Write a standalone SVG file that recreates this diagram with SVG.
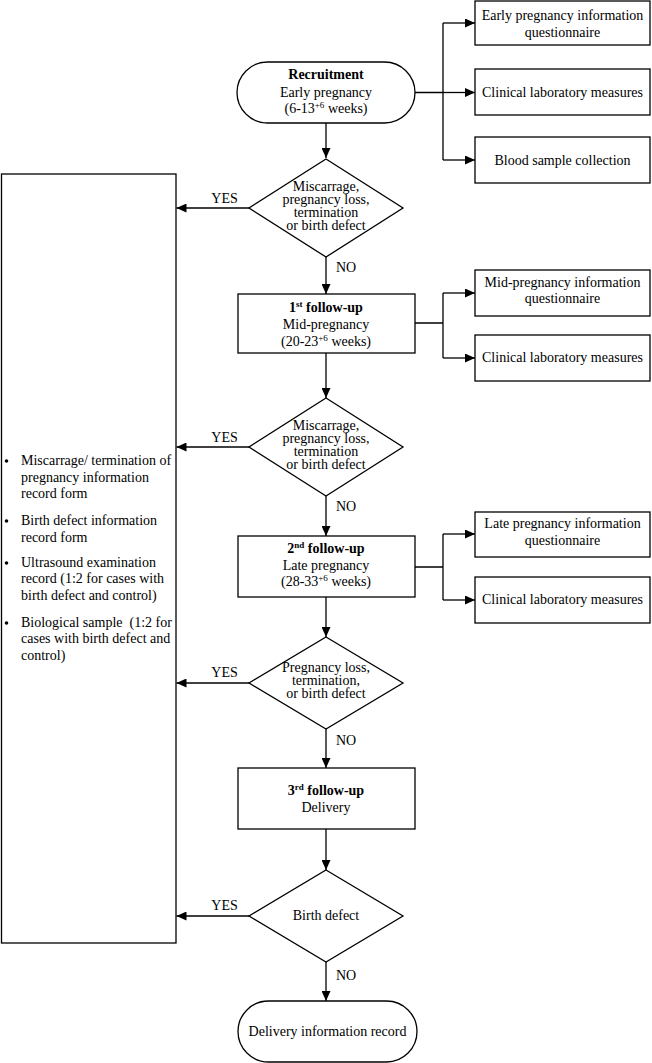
<svg xmlns="http://www.w3.org/2000/svg" width="652" height="1063" viewBox="0 0 652 1063">
<style>
text{font-family:"Liberation Serif","Times New Roman",serif;font-size:14px;fill:#000}
.c{text-anchor:middle}
.b{font-weight:bold}
.shape{fill:#fff;stroke:#000;stroke-width:1.3}
.ln{fill:none;stroke:#000;stroke-width:1.3}
.arr{marker-end:url(#ah)}
</style>
<defs>
<marker id="ah" markerUnits="userSpaceOnUse" markerWidth="10" markerHeight="9" refX="10" refY="4.5" orient="auto">
<path d="M0,0 L10,4.5 L0,9 z" fill="#000"/>
</marker>
</defs>
<rect width="652" height="1063" fill="#fff"/>

<g id="connectors">
<path class="ln arr" d="M326,123 V158"/>
<path class="ln" d="M415,92.5 H443 M443,23 V160"/>
<path class="ln arr" d="M443,23 H475"/>
<path class="ln arr" d="M443,92.5 H475"/>
<path class="ln arr" d="M443,160 H475"/>
<path class="ln arr" d="M249,208 H176.5"/>
<path class="ln arr" d="M326,257 V294"/>
<path class="ln" d="M415,323 H443 M443,293 V358"/>
<path class="ln arr" d="M443,293 H475"/>
<path class="ln arr" d="M443,358 H475"/>
<path class="ln arr" d="M326,353 V398"/>
<path class="ln arr" d="M249,447 H176.5"/>
<path class="ln arr" d="M326,496 V536"/>
<path class="ln" d="M415,567 H443 M443,534 V600"/>
<path class="ln arr" d="M443,534 H475"/>
<path class="ln arr" d="M443,600 H475"/>
<path class="ln arr" d="M326,597 V637"/>
<path class="ln arr" d="M249,683 H176.5"/>
<path class="ln arr" d="M326,729 V768"/>
<path class="ln arr" d="M326,829 V870"/>
<path class="ln arr" d="M249,916 H176.5"/>
<path class="ln arr" d="M326,962 V1001"/>
<text x="224.5" y="203" class="c">YES</text>
<text x="224.5" y="442" class="c">YES</text>
<text x="224.5" y="677" class="c">YES</text>
<text x="224.5" y="910" class="c">YES</text>
<text x="336" y="272">NO</text>
<text x="336" y="511">NO</text>
<text x="336" y="745">NO</text>
<text x="336" y="980">NO</text>
</g>

<g id="recruitment">
<rect class="shape" x="237" y="62" width="178" height="61" rx="30.5" ry="30.5"/>
<text x="326" y="79" class="c b">Recruitment</text>
<text x="326" y="97" class="c">Early pregnancy</text>
<text x="326" y="113" class="c">(6-13<tspan font-size="9" dy="-5">+6</tspan><tspan dy="5"> weeks)</tspan></text>
</g>

<g id="early-questionnaire">
<rect class="shape" x="475" y="1" width="175" height="44"/>
<text x="562.5" y="20" class="c">Early pregnancy information</text>
<text x="562.5" y="37" class="c">questionnaire</text>
</g>
<g id="early-clinical">
<rect class="shape" x="475" y="69" width="175" height="46"/>
<text x="562.5" y="97" class="c">Clinical laboratory measures</text>
</g>
<g id="blood-sample">
<rect class="shape" x="475" y="137" width="175" height="46"/>
<text x="562.5" y="165" class="c">Blood sample collection</text>
</g>

<g id="decision1">
<polygon class="shape" points="326,159 403,208 326,257 249,208"/>
<text x="326" y="191" class="c">Miscarrage,</text>
<text x="326" y="204" class="c">pregnancy loss,</text>
<text x="326" y="217" class="c">termination</text>
<text x="326" y="230" class="c">or birth defect</text>
</g>

<g id="outcome-records">
<rect class="shape" x="1.5" y="174" width="174.5" height="769"/>
<circle cx="6.5" cy="461" r="1.8"/>
<text x="21" y="465">Miscarrage/ termination of</text>
<text x="21" y="482">pregnancy information</text>
<text x="21" y="498">record form</text>
<circle cx="6.5" cy="521" r="1.8"/>
<text x="21" y="525">Birth defect information</text>
<text x="21" y="542">record form</text>
<circle cx="6.5" cy="563" r="1.8"/>
<text x="21" y="567">Ultrasound examination</text>
<text x="21" y="583">record (1:2 for cases with</text>
<text x="21" y="600">birth defect and control)</text>
<circle cx="6.5" cy="623" r="1.8"/>
<text x="21" y="627" xml:space="preserve">Biological sample  (1:2 for</text>
<text x="21" y="643">cases with birth defect and</text>
<text x="21" y="660">control)</text>
</g>

<g id="followup1">
<rect class="shape" x="238" y="294" width="177" height="59"/>
<text x="326" y="312" class="c b">1<tspan font-size="9" dy="-5">st</tspan><tspan dy="5"> follow-up</tspan></text>
<text x="326" y="329" class="c">Mid-pregnancy</text>
<text x="326" y="346" class="c">(20-23<tspan font-size="9" dy="-5">+6</tspan><tspan dy="5"> weeks)</tspan></text>
</g>
<g id="mid-questionnaire">
<rect class="shape" x="475" y="270" width="175" height="46"/>
<text x="562.5" y="287" class="c">Mid-pregnancy information</text>
<text x="562.5" y="303" class="c">questionnaire</text>
</g>
<g id="mid-clinical">
<rect class="shape" x="475" y="335" width="175" height="46"/>
<text x="562.5" y="362" class="c">Clinical laboratory measures</text>
</g>

<g id="decision2">
<polygon class="shape" points="326,398 403,447 326,496 249,447"/>
<text x="326" y="430" class="c">Miscarrage,</text>
<text x="326" y="443" class="c">pregnancy loss,</text>
<text x="326" y="456" class="c">termination</text>
<text x="326" y="469" class="c">or birth defect</text>
</g>

<g id="followup2">
<rect class="shape" x="238" y="536" width="177" height="61"/>
<text x="326" y="553" class="c b">2<tspan font-size="9" dy="-5">nd</tspan><tspan dy="5"> follow-up</tspan></text>
<text x="326" y="570" class="c">Late pregnancy</text>
<text x="326" y="586" class="c">(28-33<tspan font-size="9" dy="-5">+6</tspan><tspan dy="5"> weeks)</tspan></text>
</g>
<g id="late-questionnaire">
<rect class="shape" x="475" y="512" width="175" height="45"/>
<text x="562.5" y="528" class="c">Late pregnancy information</text>
<text x="562.5" y="545" class="c">questionnaire</text>
</g>
<g id="late-clinical">
<rect class="shape" x="475" y="577" width="175" height="46"/>
<text x="562.5" y="604" class="c">Clinical laboratory measures</text>
</g>

<g id="decision3">
<polygon class="shape" points="326,637 403,683 326,729 249,683"/>
<text x="326" y="672" class="c">Pregnancy loss,</text>
<text x="326" y="685" class="c">termination,</text>
<text x="326" y="698" class="c">or birth defect</text>
</g>

<g id="followup3">
<rect class="shape" x="238" y="768" width="177" height="61"/>
<text x="326" y="795" class="c b">3<tspan font-size="9" dy="-5">rd</tspan><tspan dy="5"> follow-up</tspan></text>
<text x="326" y="812" class="c">Delivery</text>
</g>

<g id="decision4">
<polygon class="shape" points="326,870 403,916 326,962 249,916"/>
<text x="326" y="920" class="c">Birth defect</text>
</g>

<g id="delivery-record">
<rect class="shape" x="238" y="1001" width="179" height="61" rx="30.5" ry="30.5"/>
<text x="327.5" y="1036" class="c">Delivery information record</text>
</g>
</svg>
